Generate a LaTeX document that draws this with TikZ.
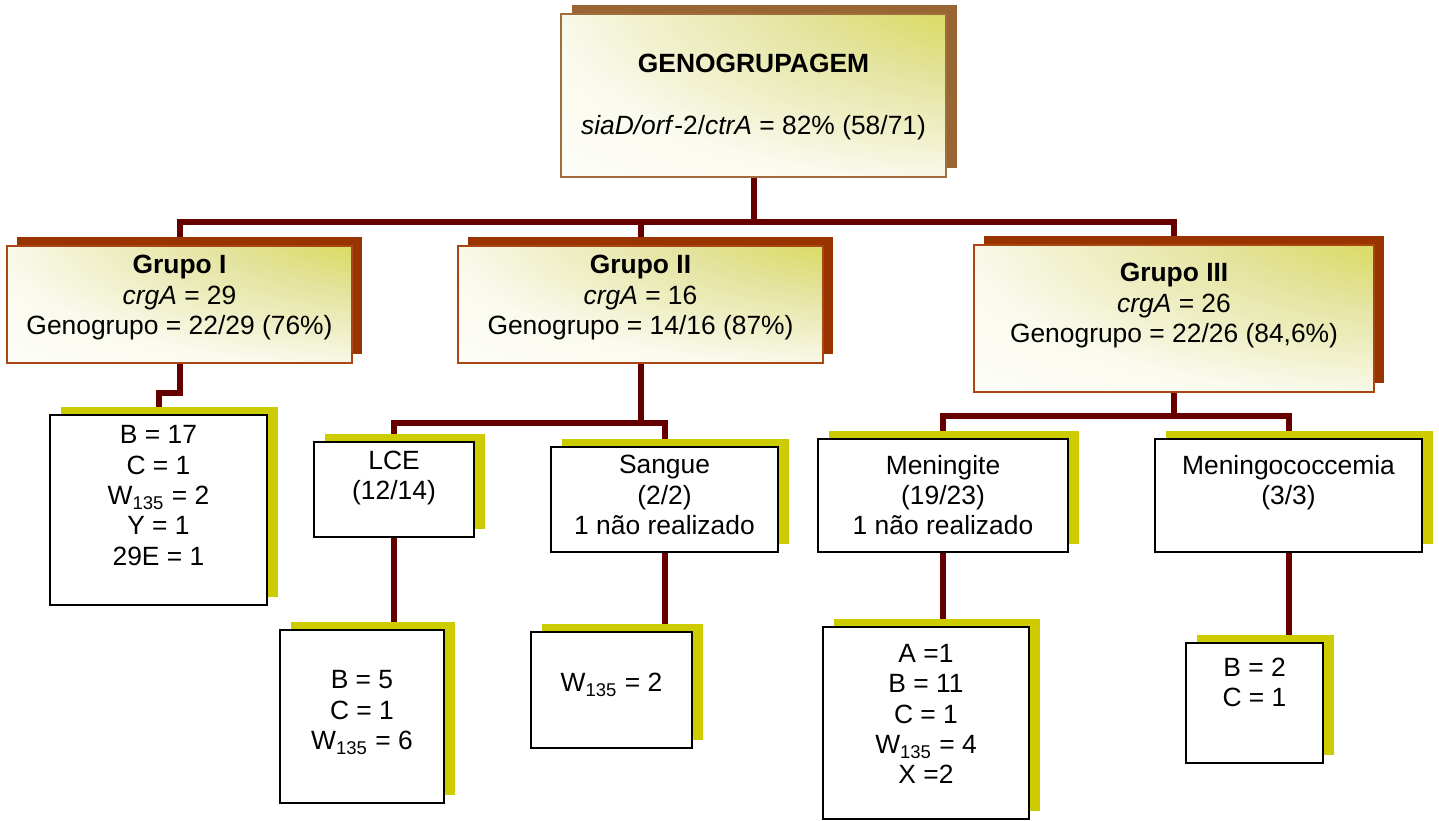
\documentclass[tikz,border=0pt]{standalone}
\usepackage{fontspec}
\setmainfont{Liberation Sans}
\usetikzlibrary{fit,shadows,backgrounds}
\definecolor{glowc}{RGB}{208,208,30}
\definecolor{glowm}{RGB}{228,228,160}
\definecolor{glowl}{RGB}{250,250,238}
\definecolor{topshadow}{RGB}{153,102,51}
\definecolor{topbrd}{RGB}{160,110,60}
\definecolor{grpshadow}{RGB}{153,51,0}
\definecolor{grpbrd}{RGB}{170,70,20}
\definecolor{leafshadow}{RGB}{204,204,0}
\definecolor{connc}{RGB}{102,0,0}
\pgfdeclareradialshading{cornerglow}{\pgfpoint{50bp}{50bp}}{color(0bp)=(glowc); color(10bp)=(glowc); color(36bp)=(glowm); color(58bp)=(glowl); color(78bp)=(white); color(150bp)=(white)}
\begin{document}
\begin{tikzpicture}[x=0.5pt,y=-0.5pt,
  box/.style={rectangle, inner sep=0pt, outer sep=0pt},
  topbox/.style={box, draw=topbrd, line width=1pt, shade, shading=cornerglow,
    general shadow={fill=topshadow, shadow xshift=5.5pt, shadow yshift=4.5pt}},
  grpbox/.style={box, draw=grpbrd, line width=1pt, shade, shading=cornerglow,
    general shadow={fill=grpshadow, shadow xshift=5pt, shadow yshift=4.5pt}},
  leafbox/.style={box, draw=black, line width=1.2pt, fill=white,
    general shadow={fill=leafshadow, shadow xshift=5.5pt, shadow yshift=4pt}},
  conn/.style={draw=connc, line width=3pt},
  txt/.style={align=center, inner sep=0pt, font=\fontsize{13.2}{15.2}\selectfont,
    execute at begin node=\strut, execute at end node=\strut, yshift=-1.25pt}
]
\useasboundingbox (0,0) rectangle (1439,820);

% boxes
\node[topbox, fit={(561,14) (946,177)}] (top) {};
\node[grpbox, fit={(7,246) (352,363)}] (g1) {};
\node[grpbox, fit={(458,246) (823,363)}] (g2) {};
\node[grpbox, fit={(974,245) (1374,392)}] (g3) {};
\node[leafbox, fit={(50,415) (267,605)}] (l1) {};
\node[leafbox, fit={(314,442) (474,537)}] (lce) {};
\node[leafbox, fit={(551,447) (778,552)}] (sangue) {};
\node[leafbox, fit={(818,439) (1068,552)}] (men) {};
\node[leafbox, fit={(1155,439) (1422,552)}] (mcc) {};
\node[leafbox, fit={(280,630) (444,803)}] (lce2) {};
\node[leafbox, fit={(531,632) (692,748)}] (sang2) {};
\node[leafbox, fit={(823,627) (1029,819)}] (men2) {};
\node[leafbox, fit={(1186,643) (1323,763)}] (mcc2) {};

% texts
\node[txt] (ttop) at (753.5,96) {\textbf{GENOGRUPAGEM}\\[15.8pt]\textit{siaD/orf}-2/\textit{ctrA} = 82\% (58/71)};
\node[txt] (tg1) at (179.5,297) {\textbf{Grupo I}\\\textit{crgA} = 29\\Genogrupo = 22/29 (76\%)};
\node[txt] (tg2) at (640.5,297) {\textbf{Grupo II}\\\textit{crgA} = 16\\Genogrupo = 14/16 (87\%)};
\node[txt] (tg3) at (1174,305) {\textbf{Grupo III}\\\textit{crgA} = 26\\Genogrupo = 22/26 (84,6\%)};
\node[txt] (tl1) at (158.5,497.5) {B = 17\\C = 1\\W\textsubscript{135} = 2\\Y = 1\\29E = 1};
\node[txt] (tlce) at (394,477.5) {LCE\\(12/14)};
\node[txt] (tsangue) at (664.5,497) {Sangue\\(2/2)\\1 não realizado};
\node[txt] (tmen) at (943,497) {Meningite\\(19/23)\\1 não realizado};
\node[txt] (tmcc) at (1288.5,482) {Meningococcemia\\(3/3)};
\node[txt] (tlce2) at (362,712) {B = 5\\C = 1\\W\textsubscript{135} = 6};
\node[txt] (tsang2) at (611.5,683) {W\textsubscript{135} = 2};
\node[txt] (tmen2) at (926,716) {A =1\\B = 11\\C = 1\\W\textsubscript{135} = 4\\X =2};
\node[txt] (tmcc2) at (1254.5,684.5) {B = 2\\C = 1};

% connectors
\begin{pgfonlayer}{background}
\coordinate (bus1) at (0,222);
\coordinate (bus2) at (0,393);
\coordinate (bus3) at (0,423);
\coordinate (bus4) at (0,416);
\draw[conn] (top.south) |- (g1.north |- bus1) -- (g1.north);
\draw[conn] (top.south) |- (g3.north |- bus1) -- (g3.north);
\draw[conn] (g2.north |- bus1) -- (g2.north);
\draw[conn] (g1.south) |- (l1.north |- bus2) -- (l1.north);
\draw[conn] (g2.south) |- (lce.north |- bus3) -- (lce.north);
\draw[conn] (g2.south) |- (sangue.north |- bus3) -- (sangue.north);
\draw[conn] (g3.south) |- (men.north |- bus4) -- (men.north);
\draw[conn] (g3.south) |- (mcc.north |- bus4) -- (mcc.north);
\draw[conn] (lce.south) -- (lce.south |- lce2.north);
\draw[conn] (sangue.south) -- (sangue.south |- sang2.north);
\draw[conn] (men.south) -- (men.south |- men2.north);
\draw[conn] (mcc.south) -- (mcc.south |- mcc2.north);
\end{pgfonlayer}
\end{tikzpicture}
\end{document}
